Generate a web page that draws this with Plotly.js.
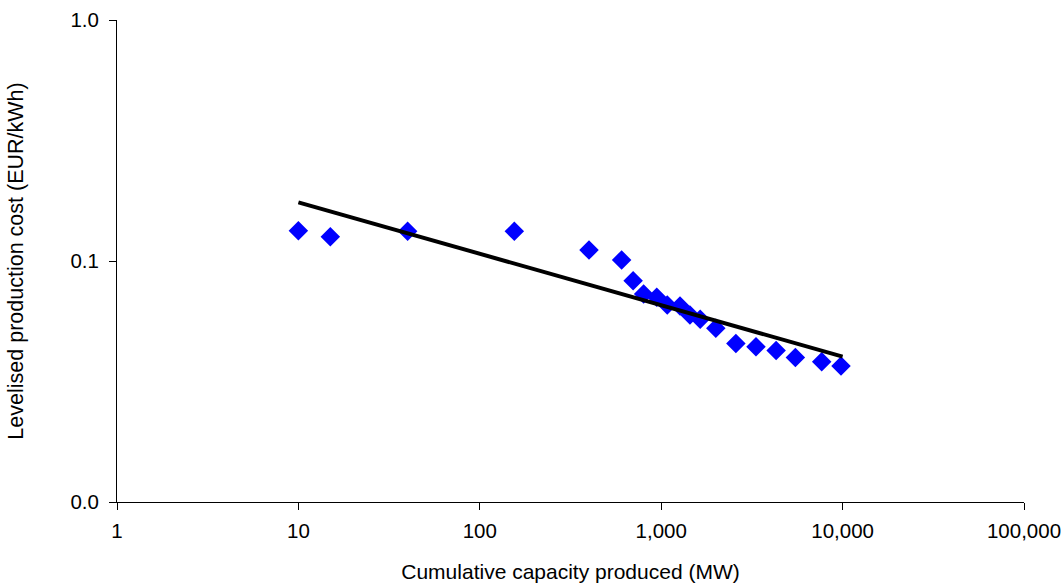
<!DOCTYPE html>
<html>
<head>
<meta charset="utf-8">
<script src="https://cdn.plot.ly/plotly-3.0.1.min.js"></script>
<style>
  html, body { margin: 0; padding: 0; background: #fff; }
  #chart { width: 1064px; height: 583px; }
</style>
</head>
<body>
<div id="chart"></div>
<script>
// Observed data (cumulative capacity in MW, levelised cost in EUR/kWh)
var capacityMW = [10, 15, 40, 155, 400, 605, 700, 800, 945, 1080, 1270, 1440, 1640, 2000, 2580, 3330, 4300, 5490, 7670, 9800];
var costEUR = [0.1336, 0.126, 0.1328, 0.1328, 0.111, 0.101, 0.0829, 0.0730, 0.0707, 0.0657, 0.0650, 0.0597, 0.0573, 0.0526, 0.0455, 0.0441, 0.0425, 0.0398, 0.0382, 0.0367];

// Fitted experience curve (end points)
var trendX = [10, 10000];
var trendY = [0.1752, 0.0401];

// Tick labels
var xTickVals = [1, 10, 100, 1000, 10000, 100000];
var xTickText = ["1", "10", "100", "1,000", "10,000", "100,000"];
var yTickVals = [0.01, 0.1, 1];
var yTickText = ["0.0", "0.1", "1.0"];

var fontFam = "Liberation Sans, Arial, sans-serif";

var traces = [
  {
    x: capacityMW, y: costEUR, type: "scatter", mode: "markers",
    marker: { symbol: "diamond", size: 15, color: "#0000FF", line: { width: 0 } },
    showlegend: false, hoverinfo: "x+y"
  },
  {
    x: trendX, y: trendY, type: "scatter", mode: "lines",
    line: { color: "#000000", width: 4 },
    showlegend: false, hoverinfo: "skip"
  }
];

var layout = {
  width: 1064, height: 583,
  margin: { l: 117, r: 40, t: 20, b: 81, pad: 0 },
  paper_bgcolor: "#ffffff", plot_bgcolor: "#ffffff",
  font: { family: fontFam, size: 20, color: "#000000" },
  showlegend: false,
  xaxis: {
    type: "log", range: [0, 5], autorange: false,
    tickmode: "array", tickvals: xTickVals, ticktext: xTickText,
    showgrid: false, zeroline: false, showline: true, linecolor: "#000000", linewidth: 1,
    ticks: "outside", ticklen: 7, tickcolor: "#000000", tickwidth: 1,
    ticklabelstandoff: 3,
    tickfont: { family: fontFam, size: 20.5, color: "#000000" },
    title: { text: "Cumulative capacity produced (MW)", font: { family: fontFam, size: 21, color: "#000000" }, standoff: 23 },
    automargin: false
  },
  yaxis: {
    type: "log", range: [-2, 0], autorange: false,
    tickmode: "array", tickvals: yTickVals, ticktext: yTickText,
    showgrid: false, zeroline: false, showline: true, linecolor: "#000000", linewidth: 1,
    ticks: "outside", ticklen: 7, tickcolor: "#000000", tickwidth: 1,
    ticklabelstandoff: 6,
    tickfont: { family: fontFam, size: 20.5, color: "#000000" },
    title: { text: "Levelised production cost (EUR/kWh)", font: { family: fontFam, size: 21.5, color: "#000000" }, standoff: 40 },
    automargin: false
  }
};

Plotly.newPlot("chart", traces, layout, { staticPlot: true, displayModeBar: false });
</script>
</body>
</html>
